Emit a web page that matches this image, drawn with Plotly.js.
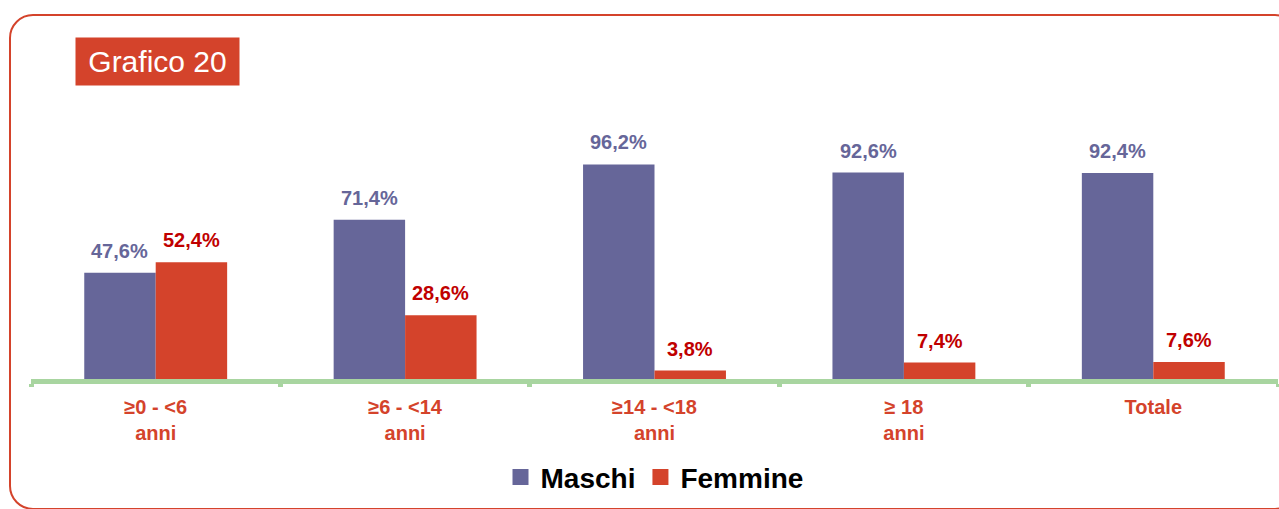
<!DOCTYPE html>
<html>
<head>
<meta charset="utf-8">
<script src="https://cdn.plot.ly/plotly-3.0.1.min.js"></script>
<style>
  html, body { margin: 0; padding: 0; background: #ffffff; overflow: hidden; }
  #frame { position: absolute; left: 9px; top: 14px; width: 1290px; height: 496px;
           box-sizing: border-box; border: 2px solid #d4432b; border-radius: 24px; }
  #chart { position: absolute; left: 0; top: 0; width: 1279px; height: 509px; }
</style>
</head>
<body>
<div id="frame"></div>
<div id="chart"></div>
<script>
// ---- data ----
const categories = ["≥0 - <6 anni", "≥6 - <14 anni", "≥14 - <18 anni", "≥ 18 anni", "Totale"];
const tickLabels = ["≥0 - &lt;6<br>anni", "≥6 - &lt;14<br>anni", "≥14 - &lt;18<br>anni", "≥ 18<br>anni", "Totale"];
const maschi = [47.6, 71.4, 96.2, 92.6, 92.4];
const femmine = [52.4, 28.6, 3.8, 7.4, 7.6];
const seriesNames = ["Maschi", "Femmine"];
const chartTitle = "Grafico 20";

const colM = "#666699", colF = "#d4432b";
const labM = "#666699", labF = "#c00000";
const font = "Liberation Sans, Arial, sans-serif";

function fmt(v) { return v.toFixed(1).replace(".", ",") + "%"; }

const traces = [
  { type: "bar", name: seriesNames[0], x: categories, y: maschi, marker: { color: colM }, showlegend: false, hoverinfo: "skip" },
  { type: "bar", name: seriesNames[1], x: categories, y: femmine, marker: { color: colF }, showlegend: false, hoverinfo: "skip" },
  { type: "scatter", mode: "markers", name: seriesNames[0], x: [null], y: [null], marker: { symbol: "square", size: 16, color: colM } },
  { type: "scatter", mode: "markers", name: seriesNames[1], x: [null], y: [null], marker: { symbol: "square", size: 16, color: colF } }
];

const annotations = [];
const shiftX = 35.7;
categories.forEach((c, i) => {
  annotations.push({ x: c, y: maschi[i], xref: "x", yref: "y", text: fmt(maschi[i]), showarrow: false,
    xanchor: "center", yanchor: "bottom", xshift: -shiftX, yshift: 9,
    font: { family: font, size: 20, color: labM, weight: "bold" } });
  annotations.push({ x: c, y: femmine[i], xref: "x", yref: "y", text: fmt(femmine[i]), showarrow: false,
    xanchor: "center", yanchor: "bottom", xshift: shiftX, yshift: 9,
    font: { family: font, size: 20, color: labF, weight: "bold" } });
});
annotations.push({ xref: "paper", yref: "paper", x: 0.1015, y: 1.423, xanchor: "center", yanchor: "middle",
  text: chartTitle, showarrow: false, bgcolor: "#d4432b", width: 161, height: 45,
  font: { family: font, size: 30, color: "#ffffff" } });

const layout = {
  width: 1279, height: 509,
  margin: { l: 31, r: 1, t: 155.5, b: 129.5 },
  paper_bgcolor: "rgba(0,0,0,0)", plot_bgcolor: "rgba(0,0,0,0)",
  barmode: "group", bargap: 0.427, bargroupgap: 0,
  font: { family: font },
  xaxis: {
    type: "category", range: [-0.5, 4.5], tickvals: categories, ticktext: tickLabels,
    showline: true, linecolor: "#a8d5a0", linewidth: 5, zeroline: false, showgrid: false,
    ticks: "outside", tickson: "boundaries", ticklen: 3, tickwidth: 5, tickcolor: "#a8d5a0",
    ticklabelstandoff: 6,
    tickfont: { family: font, size: 20, color: "#d4432b", weight: "bold" }
  },
  yaxis: { range: [0, 100], visible: false, showgrid: false, zeroline: false, fixedrange: true },
  showlegend: true,
  legend: { orientation: "h", x: 0.5, xanchor: "center", y: -0.441, yanchor: "middle",
    font: { family: font, size: 28, color: "#000000", weight: "bold" }, itemsizing: "trace", bgcolor: "rgba(0,0,0,0)" },
  annotations: annotations
};

Plotly.newPlot("chart", traces, layout, { staticPlot: true, displayModeBar: false });
</script>
</body>
</html>
